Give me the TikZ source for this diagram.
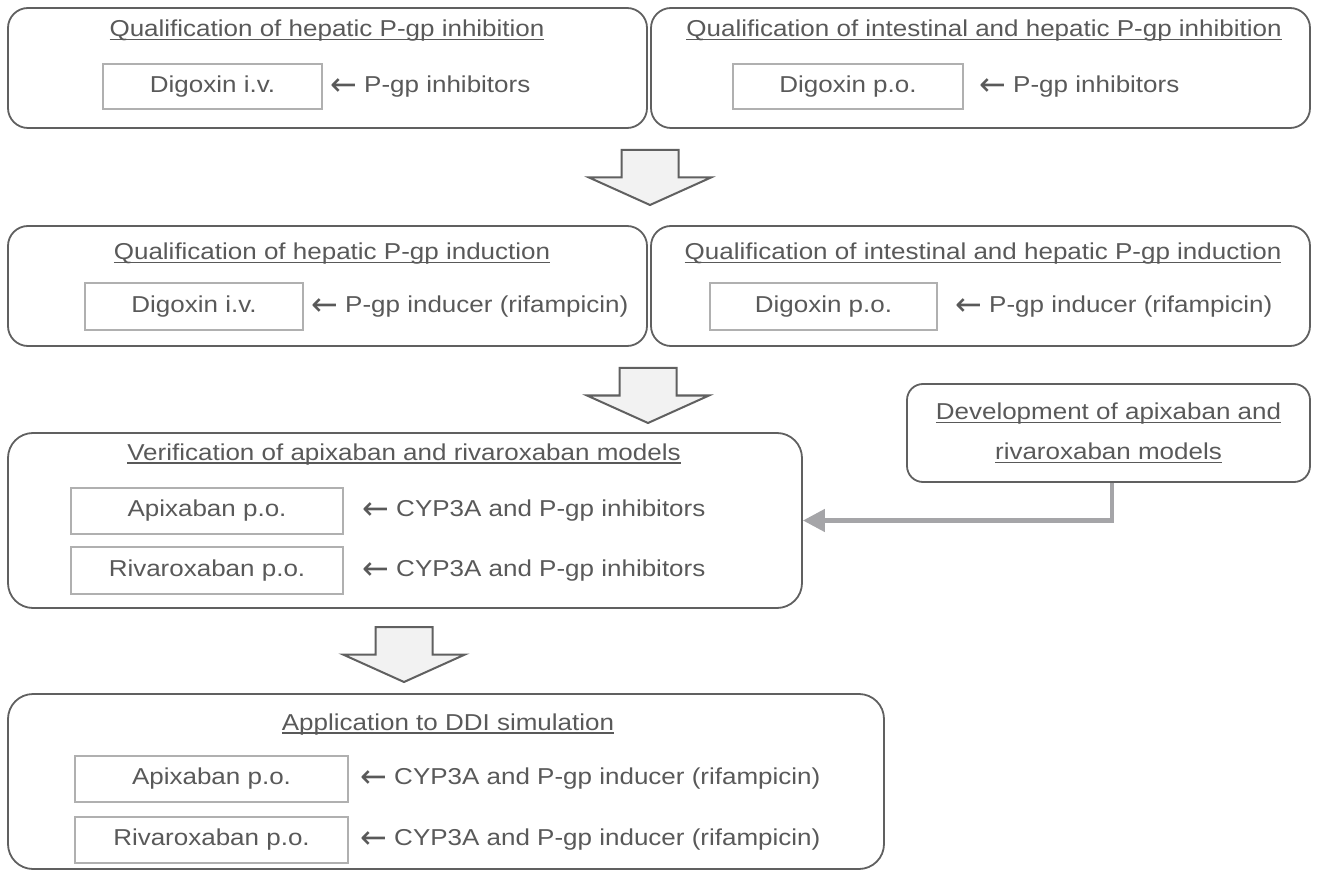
\documentclass[tikz,border=0pt]{standalone}
\usepackage{fontspec}
\setmainfont{Liberation Sans}[FakeStretch=1.13]
\newfontfamily\arrfont{DejaVu Sans}
\usetikzlibrary{arrows.meta}
\definecolor{txt}{HTML}{595959}
\definecolor{bord}{HTML}{606060}
\definecolor{ibord}{HTML}{B0B0B0}
\definecolor{afill}{HTML}{F2F2F2}
\definecolor{connc}{HTML}{A5A5A8}
\newlength\ulw
\newcommand\ulin[1]{\settowidth{\ulw}{#1}\rlap{\rule[-3.5pt]{\ulw}{1.5pt}}#1}
\newcommand\larr{\raisebox{-3pt}{\arrfont\fontsize{32}{32}\selectfont ←}}
\begin{document}
\begin{tikzpicture}[x=1pt,y=-1pt, font=\fontsize{23}{27}\selectfont, text=txt,
 bigbox/.style={draw=bord, line width=1.8pt, rounded corners=20pt, inner sep=0pt},
 inbox/.style={draw=ibord, line width=1.1pt, inner sep=0pt},
 title/.style={inner sep=0pt, anchor=base},
 lbl/.style={inner sep=0pt, anchor=west},
 blockarrow/.style={draw=bord, fill=afill, line width=2pt, line join=miter},
 barrow/.pic={\draw[blockarrow] (-28.5,0) -- (28.5,0) -- (28.5,27.5) -- (61,27.5) -- (0,55) -- (-61,27.5) -- (-28.5,27.5) -- cycle;},
 connline/.style={draw=connc, line width=4.5pt, -{Triangle[length=22pt,width=22pt]}}]
\useasboundingbox (0,0) rectangle (1317,874);

% row 1
\node[bigbox, minimum width=639pt, minimum height=120pt] (A) at (327.5,68) {};
\node[bigbox, minimum width=659pt, minimum height=120pt] (B) at (980.5,68) {};
\node[title] (tA) at (327,37) {\ulin{Qualification of hepatic P-gp inhibition}};
\node[title] (tB) at (984,37) {\ulin{Qualification of intestinal and hepatic P-gp inhibition}};
\node[inbox, minimum width=219pt, minimum height=45pt] (iA) at (212.5,86.5) {Digoxin i.v.};
\node[lbl] (lA) at (330,86.5) {\larr\ P-gp inhibitors};
\node[inbox, minimum width=230pt, minimum height=45pt] (iB) at (848,86.5) {Digoxin p.o.};
\node[lbl] (lB) at (979,86.5) {\larr\ P-gp inhibitors};

\pic (ar1) at (650,150) {barrow};

% row 2
\node[bigbox, minimum width=639pt, minimum height=120pt] (C) at (327.5,286) {};
\node[bigbox, minimum width=659pt, minimum height=120pt] (D) at (980.5,286) {};
\node[title] (tC) at (332,260) {\ulin{Qualification of hepatic P-gp induction}};
\node[title] (tD) at (983,260) {\ulin{Qualification of intestinal and hepatic P-gp induction}};
\node[inbox, minimum width=218pt, minimum height=47pt] (iC) at (194,306.5) {Digoxin i.v.};
\node[lbl] (lC) at (311,306.5) {\larr\ P-gp inducer (rifampicin)};
\node[inbox, minimum width=227pt, minimum height=47pt] (iD) at (823.5,306.5) {Digoxin p.o.};
\node[lbl] (lD) at (955,306.5) {\larr\ P-gp inducer (rifampicin)};

\pic (ar2) at (648,368) {barrow};

% row 3
\node[bigbox, rounded corners=25pt, minimum width=794pt, minimum height=175pt] (E) at (405,520.5) {};
\node[title] (tE) at (404,460) {\ulin{Verification of apixaban and rivaroxaban models}};
\node[inbox, minimum width=272pt, minimum height=46pt] (iE1) at (207,511) {Apixaban p.o.};
\node[lbl] (lE1) at (362,511) {\larr\ CYP3A and P-gp inhibitors};
\node[inbox, minimum width=272pt, minimum height=47pt] (iE2) at (207,570.5) {Rivaroxaban p.o.};
\node[lbl] (lE2) at (362,570.5) {\larr\ CYP3A and P-gp inhibitors};

\node[bigbox, rounded corners=16pt, minimum width=403pt, minimum height=98pt, align=center,
      font=\fontsize{23}{40}\selectfont] (dev) at (1108.5,433)
      {\ulin{Development of apixaban and}\\\ulin{rivaroxaban models}};
\draw[connline] ([xshift=3.5pt]dev.south) |- (E.east);

\pic (ar3) at (404,627) {barrow};

% row 4
\node[bigbox, rounded corners=25pt, minimum width=876pt, minimum height=175pt] (F) at (446,781.5) {};
\node[title] (tF) at (448,730) {\ulin{Application to DDI simulation}};
\node[inbox, minimum width=273pt, minimum height=46pt] (iF1) at (211.5,779) {Apixaban p.o.};
\node[lbl] (lF1) at (360,779) {\larr\ CYP3A and P-gp inducer (rifampicin)};
\node[inbox, minimum width=273pt, minimum height=46pt] (iF2) at (211.5,840) {Rivaroxaban p.o.};
\node[lbl] (lF2) at (360,840) {\larr\ CYP3A and P-gp inducer (rifampicin)};
\end{tikzpicture}
\end{document}
